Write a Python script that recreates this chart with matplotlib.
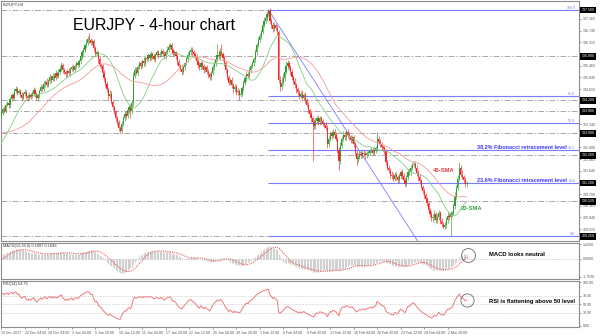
import numpy as np
import pandas as pd
import matplotlib
matplotlib.use('Agg')
import matplotlib.pyplot as plt

plt.rcParams['font.family'] = ['Liberation Sans', 'DejaVu Sans']

# ---------------- data: EURJPY 4-hour bars ----------------
# closes before the first visible bar, only used to warm up the SMAs / MACD / RSI
warmup_close = [133.40, 133.55, 133.62, 133.50, 133.68, 133.75, 133.60, 133.70, 133.80, 133.72,
                133.65, 133.50, 133.42, 133.55, 133.40, 133.25, 133.10, 132.90, 132.70, 132.50,
                132.35, 132.20, 132.10, 132.25, 132.15, 132.05, 132.20, 132.30, 132.20, 132.35,
                132.45, 132.40, 132.60, 132.75, 132.70, 132.95, 133.15, 133.30, 133.50, 133.65]

close = [133.75, 133.90, 133.82, 134.05, 134.10, 134.02, 134.25, 134.38, 134.30, 134.55,
         134.62, 134.48, 134.55, 134.40, 134.30, 134.45, 134.52, 134.35, 134.28, 134.40,
         134.33, 134.45, 134.58, 134.42, 134.30, 134.38, 134.55, 134.70, 134.62, 134.80,
         134.88, 134.75, 134.92, 135.05, 134.95, 135.10, 135.02, 135.18, 135.10, 135.25,
         135.35, 135.48, 135.30, 135.22, 135.15, 135.28, 135.20, 135.35, 135.42, 135.30,
         135.45, 135.55, 135.48, 135.62, 135.80, 135.95, 136.05, 136.20, 136.30, 136.45,
         136.40, 136.30, 136.35, 136.10, 135.90, 135.95, 135.70, 135.50, 135.45, 135.20,
         135.00, 134.80, 134.60, 134.35, 134.45, 134.15, 133.95, 133.80, 133.55, 133.40,
         133.20, 133.10, 133.35, 133.55, 133.72, 133.65, 133.85, 133.95, 133.80, 134.10,
         135.10, 135.30, 135.20, 135.40, 135.55, 135.45, 135.65, 135.55, 135.75, 135.70,
         135.85, 135.75, 135.90, 135.80, 135.70, 135.85, 135.95, 135.85, 135.90, 136.00,
         135.90, 135.80, 135.95, 136.05, 136.15, 136.20, 136.05, 135.90, 135.95, 135.80,
         135.60, 135.45, 135.35, 135.25, 135.40, 135.55, 135.70, 135.85, 135.95, 136.05,
         135.95, 135.90, 135.80, 135.65, 135.50, 135.40, 135.55, 135.45, 135.30, 135.40,
         135.25, 135.15, 135.05, 135.20, 135.40, 135.55, 135.70, 135.85, 135.80, 135.95,
         135.90, 135.75, 135.55, 135.30, 135.05, 134.85, 134.95, 134.75, 134.60, 134.70,
         134.50, 134.55, 134.40, 134.45, 134.65, 134.85, 135.00, 135.15, 135.10, 135.30,
         135.45, 135.55, 135.70, 135.95, 136.20, 136.40, 136.55, 136.70, 136.95, 137.10,
         137.20, 137.35, 137.45, 137.10, 136.95, 136.80, 136.95, 136.85, 136.70, 134.95,
         134.70, 134.85, 135.00, 135.25, 135.45, 135.55, 135.40, 135.25, 135.05, 134.90,
         134.75, 134.60, 134.50, 134.35, 134.45, 134.30, 134.40, 134.20, 134.05, 133.85,
         133.70, 133.55, 133.40, 133.25, 133.45, 133.55, 133.40, 133.55, 133.45, 133.35,
         133.30, 133.20, 132.60, 132.80, 133.00, 132.90, 133.05, 132.95, 132.80, 132.40,
         132.00, 132.55, 132.80, 132.95, 132.85, 133.05, 132.95, 132.85, 132.75, 132.85,
         132.60, 132.30, 132.05, 132.15, 132.25, 132.20, 132.30, 132.25, 132.20, 132.28,
         132.30, 132.35, 132.40, 132.30, 132.40, 132.45, 132.80, 132.70, 132.60, 132.50,
         132.45, 132.35, 131.95, 131.75, 131.65, 131.50, 131.45, 131.35, 131.50, 131.40,
         131.30, 131.45, 131.60, 131.45, 131.30, 131.15, 131.40, 131.60, 131.60, 131.75,
         131.85, 131.90, 131.75, 131.55, 131.40, 131.25, 131.05, 130.90, 130.75, 130.60,
         130.45, 130.20, 130.05, 129.90, 129.95, 130.05, 129.85, 129.95, 130.10, 129.80,
         129.70, 129.60, 129.65, 129.85, 130.00, 129.95, 130.05, 130.10, 130.35, 130.70,
         131.00, 131.35, 131.75, 131.50, 131.40, 131.30, 131.15, 131.20]

# wick lengths above / below the candle body, in hundredths of a yen
wick_up = [8, 6, 10, 5, 7, 12, 6, 8, 9, 10,  12, 6, 8, 5, 9, 7, 10, 6, 8, 9,
           7, 8, 10, 6, 9, 5, 8, 10, 7, 9,  8, 12, 6, 10, 7, 9, 8, 11, 6, 9,
           10, 12, 8, 7, 9, 6, 10, 8, 7, 9,  8, 10, 7, 9, 6, 10, 8, 7, 12, 10,
           20, 8, 10, 7, 9, 8, 6, 10, 7, 8,  9, 7, 10, 6, 12, 8, 7, 9, 6, 10,
           8, 6, 9, 7, 10, 8, 6, 9, 12, 10,  12, 10, 12, 8, 9, 10, 7, 12, 8, 10,
           9, 8, 10, 7, 12, 9, 10, 8, 7, 12,  9, 10, 8, 12, 10, 8, 10, 7, 9, 6,
           8, 9, 7, 10, 8, 6, 9, 10, 8, 10,  10, 8, 7, 9, 6, 10, 8, 9, 7, 6,
           8, 10, 9, 7, 12, 10, 15, 40, 20, 15,  30, 8, 10, 7, 9, 8, 6, 10, 7, 9,
           8, 10, 6, 9, 7, 10, 8, 12, 9, 10,  8, 10, 9, 12, 8, 10, 9, 11, 10, 12,
           10, 9, 5, 12, 10, 9, 11, 8, 10, 5,  15, 20, 18, 15, 18, 12, 10, 8, 9, 7,
           10, 8, 9, 7, 10, 12, 8, 9, 10, 8,  9, 10, 8, 12, 10, 9, 12, 8, 10, 9,
           8, 10, 12, 9, 10, 8, 12, 10, 9, 8,  10, 12, 9, 15, 10, 8, 12, 10, 9, 8,
           10, 9, 8, 12, 10, 9, 8, 10, 9, 8,  10, 8, 9, 12, 10, 8, 25, 10, 9, 8,
           9, 10, 8, 9, 10, 8, 12, 9, 10, 8,  9, 10, 8, 12, 10, 9, 10, 12, 15, 10,
           12, 8, 9, 8, 10, 12, 9, 8, 10, 9,  10, 9, 8, 12, 10, 15, 9, 10, 12, 8,
           10, 9, 12, 10, 15, 10, 12, 8, 10, 15,  12, 15, 20, 10, 15, 8, 12, 6]
wick_dn = [10, 7, 9, 8, 6, 10, 8, 7, 9, 6,  8, 10, 6, 9, 12, 7, 8, 10, 9, 7,
           9, 6, 8, 10, 7, 12, 9, 6, 8, 7,  10, 8, 7, 9, 12, 6, 10, 8, 9, 7,
           9, 8, 10, 7, 9, 8, 6, 10, 9, 8,  7, 9, 8, 6, 10, 8, 9, 7, 10, 8,
           10, 8, 7, 9, 8, 10, 12, 7, 9, 10,  8, 10, 9, 12, 8, 9, 10, 8, 12, 10,
           12, 8, 8, 10, 9, 12, 8, 10, 24, 9,  10, 8, 9, 10, 7, 12, 8, 9, 10, 8,
           8, 10, 7, 9, 8, 10, 6, 9, 8, 7,  9, 8, 10, 7, 9, 8, 10, 9, 7, 10,
           10, 8, 9, 12, 8, 9, 7, 10, 8, 9,  8, 10, 9, 8, 12, 10, 8, 9, 10, 8,
           10, 12, 9, 10, 8, 9, 10, 8, 9, 10,  8, 10, 9, 12, 10, 8, 9, 10, 12, 8,
           10, 9, 20, 8, 10, 9, 8, 10, 9, 8,  9, 8, 10, 9, 8, 7, 9, 10, 8, 9,
           8, 10, 9, 8, 12, 10, 9, 8, 10, 12,  15, 12, 10, 9, 8, 10, 9, 12, 10, 9,
           10, 12, 9, 10, 8, 12, 10, 9, 10, 12,  10, 12, 140, 10, 9, 12, 10, 9, 10, 8,
           10, 9, 15, 10, 9, 12, 8, 10, 9, 12,  35, 10, 9, 8, 10, 9, 12, 10, 9, 10,
           9, 12, 20, 10, 9, 8, 10, 9, 12, 8,  9, 10, 8, 9, 10, 12, 9, 8, 10, 9,
           10, 9, 12, 10, 9, 12, 10, 9, 8, 10,  10, 9, 12, 10, 9, 10, 8, 9, 10, 12,
           10, 9, 8, 10, 12, 10, 9, 12, 10, 9,  10, 12, 9, 10, 12, 9, 10, 12, 9, 10,
           10, 6, 9, 10, 12, 12, 70, 8, 9, 10,  9, 8, 10, 9, 8, 10, 9, 10]

date_labels = ['19 Dec 2017', '22 Dec 04:00', '28 Dec 04:00', '3 Jan 04:00', '5 Jan 20:00',
               '10 Jan 12:00', '15 Jan 04:00', '17 Jan 20:00', '22 Jan 12:00', '25 Jan 04:00',
               '29 Jan 20:00', '1 Feb 12:00', '6 Feb 04:00', '8 Feb 20:00', '13 Feb 12:00',
               '16 Feb 04:00', '20 Feb 20:00', '23 Feb 12:00', '28 Feb 04:00', '2 Mar 20:00']
bars_per_label = 16

price_ticks = [137.165, 136.740, 136.315, 135.890, 135.465, 135.040, 134.615, 134.190, 133.765,
               133.340, 132.915, 132.490, 132.065, 131.640, 131.215, 130.790, 130.365, 129.940, 129.515]
sr_levels = [137.500, 135.800, 134.200, 133.800, 133.000, 132.200, 130.520, 129.250]

fib_high, fib_low = 137.50, 129.25
fib_ratios = [0.0, 23.6, 38.2, 50.0, 61.8, 100.0]
fib_start_bar = 182
trend_bars = [182, 290]
trend_prices = [137.50, 128.55]

macd_tick_labels = ['1.4350', '0.0000', '-1.7530']
rsi_ticks = [100, 70, 50, 30, 0]

# ---------------- indicators ----------------
n_w = len(warmup_close)
s = pd.Series(warmup_close + close)
c = np.array(close)
o = s.shift(1).bfill().values[n_w:]
hi = np.maximum(o, c) + np.array(wick_up) / 100
lo = np.minimum(o, c) - np.array(wick_dn) / 100
x = np.arange(len(c))

sma20 = s.rolling(20, min_periods=1).mean().values[n_w:]
sma40 = s.rolling(40, min_periods=1).mean().values[n_w:]
macd = s.ewm(span=12, adjust=False).mean() - s.ewm(span=26, adjust=False).mean()
signal = macd.rolling(9, min_periods=1).mean()
macd, signal = macd.values[n_w:], signal.values[n_w:]
d = s.diff().fillna(0)
gain = d.clip(lower=0).ewm(alpha=1/14, adjust=False).mean()
loss = (-d.clip(upper=0)).ewm(alpha=1/14, adjust=False).mean()
rsi = (100 - 100 / (1 + gain / loss)).values[n_w:]

# ---------------- figure ----------------
W, H = 600, 336
fig = plt.figure(figsize=(6, 3.36), dpi=100)
def pbox(x0, y0, x1, y1):
    return [x0 / W, 1 - y1 / H, (x1 - x0) / W, (y1 - y0) / H]

ax = fig.add_axes(pbox(0.5, 1, 579, 241))
axm = fig.add_axes(pbox(0.5, 243, 579, 279), sharex=ax)
axr = fig.add_axes(pbox(0.5, 281, 579, 327), sharex=ax)

GREEN, RED, BLUE = '#2f9d2f', '#f42a2a', '#7b7bff'
TXT = '#333333'

for a in (ax, axm, axr):
    a.yaxis.tick_right()
    a.tick_params(axis='y', length=1.5, width=0.4, labelsize=2.6, pad=1, colors='#555555')
    a.tick_params(axis='x', length=0, labelbottom=False)
    for sp in a.spines.values():
        sp.set_color('#8c8c8c')
        sp.set_linewidth(0.8)

ax.set_xlim(-0.5, 393.5)
ax.set_ylim(129.08, 137.82)

# horizontal support / resistance lines
for lv in sr_levels:
    ax.axhline(lv, color='#a8a8a8', lw=0.7, ls=(0, (6, 2, 1.5, 2)), zorder=1)

# fibonacci retracement
x_end = 393.5
for r in fib_ratios:
    lv = fib_low + (fib_high - fib_low) * r / 100
    ax.hlines(lv, fib_start_bar, x_end, color=BLUE, lw=0.8, zorder=2)
    ax.text(391, lv, '%.1f' % r, fontsize=2.6, color=BLUE, ha='right', va='bottom')
ax.plot(trend_bars, trend_prices, color=BLUE, lw=0.6, zorder=2)

# candles
col = np.where(c >= o, GREEN, RED)
ax.vlines(x, lo, hi, colors=col, lw=0.45, zorder=3)
ax.bar(x, np.maximum(np.abs(c - o), 0.025), bottom=np.minimum(o, c), width=0.8,
       color=col, lw=0, zorder=4)

ax.plot(x, sma20, color='#86cc86', lw=0.6, zorder=5)
ax.plot(x, sma40, color='#f39a9a', lw=0.6, zorder=5)

# right price scale: plain ticks, hidden where a highlighted line label sits on top
boxed = sr_levels + [close[-1]]
shown = [t for t in price_ticks if min(abs(t - b) for b in boxed) > 0.1]
ax.set_yticks(shown)
ax.set_yticklabels(['%.3f' % t for t in shown])
for lv in boxed:
    ax.text(1.004, lv, '%.3f' % lv, transform=ax.get_yaxis_transform(), fontsize=2.6,
            color='white', va='center', ha='left', zorder=10, clip_on=False,
            bbox=dict(boxstyle='square,pad=0.35', fc='black', ec='none'))

ax.text(0.004, 0.995, 'EURJPY,H4', transform=ax.transAxes, fontsize=2.8, color=TXT,
        va='top', ha='left')
fig.text(73 / W, 1 - 30 / H, 'EURJPY - 4-hour chart', fontsize=11.4, color='black',
         ha='left', va='baseline')

ax.text(385.3, fib_low + (fib_high - fib_low) * 0.382, '38.2% Fibonacci retracement level',
        fontsize=4.0, fontweight='bold', color='#3a3aff', ha='right', va='bottom', zorder=6)
ax.text(385.3, fib_low + (fib_high - fib_low) * 0.236, '23.6% Fibonacci retracement level',
        fontsize=4.0, fontweight='bold', color='#3a3aff', ha='right', va='bottom', zorder=6)
ax.text(293.8, 131.63, '40-SMA', fontsize=4.2, fontweight='bold', color='#e83a3a',
        ha='left', va='center', zorder=6)
ax.text(312.9, 130.26, '20-SMA', fontsize=4.2, fontweight='bold', color='#3aa63a',
        ha='left', va='center', zorder=6)

# MACD panel (zero line 16 px below the top, 20 px above the bottom)
k = max(-macd.min(), -signal.min()) / 14.0
axm.vlines(x, 0, macd, colors='#d0d0d0', lw=0.8)
axm.plot(x, signal, color='#ee5a5a', lw=0.8, ls=(0, (1, 1)))
axm.axhline(0, color='#a8a8a8', lw=0.5, ls=':')
axm.set_ylim(-20 * k, 16 * k)
axm.set_yticks([15 * k, 0, -18 * k])
axm.set_yticklabels(macd_tick_labels)
axm.text(0.004, 0.97, 'MACD(12,26,9) 0.1097 0.1046', transform=axm.transAxes,
         fontsize=2.8, color=TXT, va='top', ha='left')
axm.plot([317.6], [4 * k], 'o', ms=10, mfc='none', mec='#6a6a6a', mew=0.6)
axm.text(332, 4 * k, 'MACD looks neutral', fontsize=4.2, fontweight='bold', color='black',
         ha='left', va='center')

# RSI panel
axr.plot(x, rsi, color='#f07878', lw=0.7)
for lv in (70, 50, 30):
    axr.axhline(lv, color='#b0b0b0', lw=0.5, ls=':')
axr.set_ylim(-2.3, 103.4)
axr.set_yticks(rsi_ticks)
axr.set_yticklabels(['%.2f' % t for t in rsi_ticks])
axr.text(0.004, 0.97, 'RSI(14) 54.75', transform=axr.transAxes, fontsize=2.8, color=TXT,
         va='top', ha='left')
axr.plot([317], [58.6], 'o', ms=9.5, mfc='none', mec='#6a6a6a', mew=0.6)
axr.text(332, 56, 'RSI is flattening above 50 level', fontsize=4.2, fontweight='bold',
         color='black', ha='left', va='center')

# date axis
ticks = [i * bars_per_label for i in range(len(date_labels))]
axr.set_xticks(ticks)
axr.set_xticklabels(date_labels)
axr.tick_params(axis='x', length=1.5, width=0.4, labelsize=2.6, pad=1.5,
                labelbottom=True, colors='#555555')
for t in axr.get_xticklabels():
    t.set_ha('left')

fig.savefig('out.png', dpi=100, facecolor='white')
